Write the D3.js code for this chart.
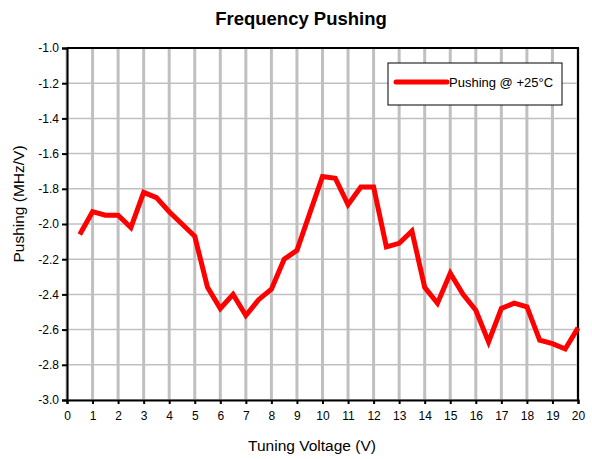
<!DOCTYPE html>
<html>
<head>
<meta charset="utf-8">
<script src="https://cdn.jsdelivr.net/npm/d3@7"></script>
<style>
  body { margin: 0; background: #fff; }
  svg { font-family: "Liberation Sans", Arial, sans-serif; }
</style>
</head>
<body>
<svg width="592" height="459"></svg>
<script>
const voltage = [0.5, 1, 1.5, 2, 2.5, 3, 3.5, 4, 4.5, 5, 5.5, 6, 6.5, 7, 7.5, 8, 8.5, 9, 9.5, 10,
  10.5, 11, 11.5, 12, 12.5, 13, 13.5, 14, 14.5, 15, 15.5, 16, 16.5, 17, 17.5, 18, 18.5, 19, 19.5, 20];
const pushing = [-2.06, -1.93, -1.95, -1.95, -2.02, -1.82, -1.85, -1.93, -2.00, -2.07,
  -2.36, -2.48, -2.40, -2.52, -2.43, -2.37, -2.20, -2.15, -1.94, -1.73,
  -1.74, -1.89, -1.79, -1.79, -2.13, -2.11, -2.04, -2.36, -2.45, -2.28,
  -2.40, -2.49, -2.67, -2.48, -2.45, -2.47, -2.66, -2.68, -2.71, -2.59];
const xTicks = d3.range(0, 21, 1);
const yTicks = [-3.0, -2.8, -2.6, -2.4, -2.2, -2.0, -1.8, -1.6, -1.4, -1.2, -1.0];
const seriesName = "Pushing @ +25°C";

let margin = { top: 48, right: 14, bottom: 59, left: 67 };
let width = 592, height = 459;

let xScale = d3.scaleLinear().domain([0, 20]).range([margin.left, width - margin.right]);
let yScale = d3.scaleLinear().domain([-3.0, -1.0]).range([height - margin.bottom, margin.top]);

let svg = d3.select("svg");

// grid
svg.append("g").selectAll("line").data(yTicks).enter().append("line")
  .attr("x1", xScale(0)).attr("x2", xScale(20))
  .attr("y1", d => yScale(d)).attr("y2", d => yScale(d))
  .attr("stroke", "#c0c0c0").attr("stroke-width", 1.5);
svg.append("g").selectAll("line").data(xTicks).enter().append("line")
  .attr("x1", d => xScale(d)).attr("x2", d => xScale(d))
  .attr("y1", yScale(-3.0)).attr("y2", yScale(-1.0))
  .attr("stroke", "#c0c0c0").attr("stroke-width", 3);

// frame on top and right
svg.append("path")
  .attr("d", `M${xScale(0)},${yScale(-1)}H${xScale(20)}V${yScale(-3)}`)
  .attr("fill", "none").attr("stroke", "#000").attr("stroke-width", 2);

// axes
let xAxis = svg.append("g")
  .attr("transform", `translate(0,${yScale(-3.0)})`)
  .call(d3.axisBottom(xScale).tickValues(xTicks).tickFormat(d3.format("d")).tickSizeOuter(0).tickSize(4));
let yAxis = svg.append("g")
  .attr("transform", `translate(${xScale(0)},0)`)
  .call(d3.axisLeft(yScale).tickValues(yTicks).tickFormat(d => d.toFixed(1)).tickSizeOuter(0).tickSize(5));

[xAxis, yAxis].forEach(g => {
  g.select(".domain").attr("stroke", "#000").attr("stroke-width", 2);
  g.selectAll(".tick line").attr("stroke", "#000").attr("stroke-width", 2);
  g.selectAll(".tick text").attr("font-size", 12).attr("fill", "#000")
    .attr("font-family", "Liberation Sans, Arial, sans-serif");
});
xAxis.selectAll(".tick text").attr("dy", "1.05em");
yAxis.selectAll(".tick text").attr("x", -8);

// data line
let line = d3.line().x((d, i) => xScale(voltage[i])).y(d => yScale(d));
svg.append("path")
  .datum(pushing)
  .attr("d", line)
  .attr("fill", "none")
  .attr("stroke", "#ff0000")
  .attr("stroke-width", 5)
  .attr("stroke-linejoin", "miter")
  .attr("stroke-linecap", "butt");

// titles
svg.append("text")
  .attr("x", 301).attr("y", 25)
  .attr("text-anchor", "middle").attr("font-size", 18.5).attr("font-weight", "bold")
  .text("Frequency Pushing");
svg.append("text")
  .attr("x", 312).attr("y", 451)
  .attr("text-anchor", "middle").attr("font-size", 15.5)
  .text("Tuning Voltage (V)");
svg.append("text")
  .attr("transform", "translate(24,204) rotate(-90)")
  .attr("text-anchor", "middle").attr("font-size", 15.5)
  .text("Pushing (MHz/V)");

// legend
let legend = svg.append("g").attr("transform", "translate(388,63)");
legend.append("rect").attr("width", 174).attr("height", 42)
  .attr("fill", "#fff").attr("stroke", "#000").attr("stroke-width", 1);
legend.append("line").attr("x1", 8).attr("x2", 59).attr("y1", 19).attr("y2", 19)
  .attr("stroke", "#ff0000").attr("stroke-width", 5).attr("stroke-linecap", "round");
legend.append("text").attr("x", 61).attr("y", 24).attr("font-size", 13)
  .text(seriesName);
</script>
</body>
</html>
